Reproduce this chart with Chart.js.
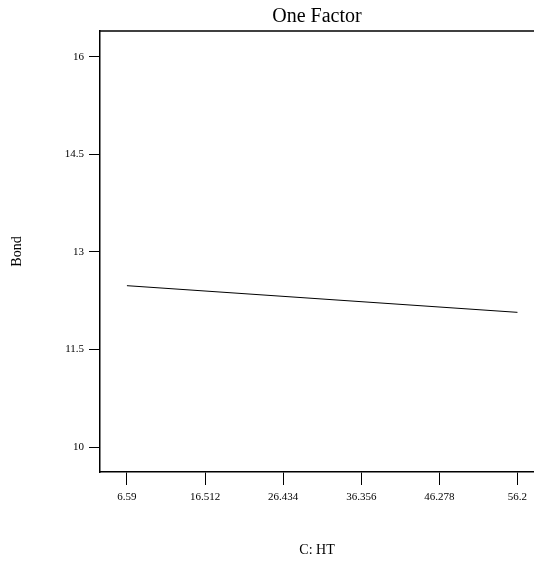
<!DOCTYPE html>
<html>
<head>
<meta charset="utf-8">
<script src="https://cdn.jsdelivr.net/npm/chart.js@4/dist/chart.umd.min.js"></script>
<style>
  html,body{margin:0;padding:0;background:#fff;}
  #wrap{width:534px;height:566px;}
</style>
</head>
<body>
<div id="wrap"><canvas id="c" width="534" height="566"></canvas></div>
<script>
// ====== DATA ======
const xValues = [6.59, 56.2];
const bondValues = [12.48, 12.07];
const xTicks = [6.59, 16.512, 26.434, 36.356, 46.278, 56.2];
const yTicks = [10, 11.5, 13, 14.5, 16];

const serif = '"Liberation Serif", "Times New Roman", serif';

// top frame line
const frameTop = {
  id: 'frameTop',
  afterDraw(chart){
    const { ctx, chartArea: a } = chart;
    ctx.save(); ctx.strokeStyle = '#000'; ctx.lineWidth = 1.5;
    ctx.beginPath(); ctx.moveTo(a.left, a.top); ctx.lineTo(a.right, a.top); ctx.stroke();
    ctx.restore();
  }
};

new Chart(document.getElementById('c'), {
  type: 'scatter',
  data: { datasets: [{
    data: xValues.map((x,i)=>({x, y: bondValues[i]})),
    showLine: true, borderColor: '#000', borderWidth: 1, pointRadius: 0, fill: false
  }]},
  options: {
    responsive: false, animation: false,
    layout: { padding: 0 },
    plugins: {
      legend: { display: false }, tooltip: { enabled: false },
      title: { display: true, text: 'One Factor', color: '#000', fullSize: false,
        font: { family: serif, size: 20, weight: 'normal' }, padding: { top: 5, bottom: 2 } }
    },
    scales: {
      x: {
        type: 'linear', min: 3.17, max: 58.3,
        afterBuildTicks: s => { s.ticks = xTicks.map(v=>({value:v})); },
        afterFit: s => { s.height = 94; },
        ticks: { color: '#000', font: { family: serif, size: 11 }, padding: 6, maxRotation: 0,
          callback: v => String(v) },
        grid: { drawOnChartArea: false, drawTicks: true, tickLength: 13, color: '#000', tickWidth: 1 },
        border: { display: true, color: '#000', width: 1.5 },
        title: { display: true, text: 'C: HT', color: '#000', font: { family: serif, size: 14 }, padding: { top: 0, bottom: 7 } }
      },
      y: {
        type: 'linear', min: 9.616, max: 16.395,
        afterBuildTicks: s => { s.ticks = yTicks.map(v=>({value:v})); },
        afterFit: s => { s.width = 100; },
        ticks: { color: '#000', font: { family: serif, size: 11 }, padding: 5,
          callback: v => String(v) },
        grid: { drawOnChartArea: false, drawTicks: true, tickLength: 11, color: '#000', tickWidth: 1 },
        border: { display: true, color: '#000', width: 1.5 },
        title: { display: true, text: 'Bond', color: '#000', font: { family: serif, size: 14 }, padding: { top: 9, bottom: 0 } }
      }
    }
  },
  plugins: [frameTop]
});
</script>
</body>
</html>
